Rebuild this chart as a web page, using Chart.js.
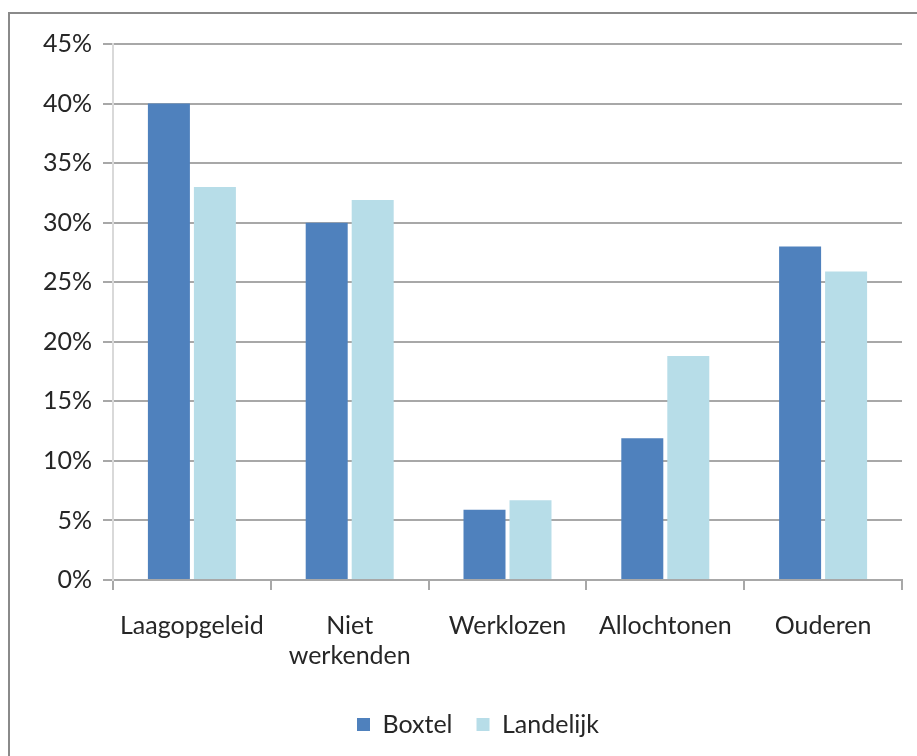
<!DOCTYPE html>
<html lang="nl">
<head>
    <meta charset="UTF-8">
    <title>Boxtel vs Landelijk</title>
    <script src="https://cdn.jsdelivr.net/npm/chart.js"></script>
    <style>
        html, body { margin: 0; padding: 0; background: #fff; overflow: hidden; }
        .frame {
            position: absolute; left: 8px; top: 12px;
            width: 1000px; height: 1000px;
            border: 2px solid #8a8a8a;
        }
        .chart-container { position: absolute; left: 0; top: 0; width: 917px; height: 756px; }
    </style>
</head>
<body>
    <div class="frame"></div>
    <div class="chart-container">
        <canvas id="myChart"></canvas>
    </div>
    <script>
        // categories and series (percentages)
        const categories = ['Laagopgeleid', ['Niet', 'werkenden'], 'Werklozen', 'Allochtonen', 'Ouderen'];
        const boxtel = [40, 30, 5.9, 11.9, 28];
        const landelijk = [33, 31.9, 6.7, 18.8, 25.9];
        const yTicks = [0, 5, 10, 15, 20, 25, 30, 35, 40, 45];

        const font = { family: 'Lato, "Liberation Sans", sans-serif', size: 25 };
        const gridColor = '#a8a8a8';

        // the original legend sits a little right of the canvas centre
        const legendShift = {
            id: 'legendShift',
            afterLayout(chart) {
                chart.legend.left += 27;
                chart.legend.right += 27;
            }
        };

        const ctx = document.getElementById('myChart').getContext('2d');
        new Chart(ctx, {
            type: 'bar',
            data: {
                labels: categories,
                datasets: [{
                    label: 'Boxtel',
                    data: boxtel,
                    backgroundColor: '#4f81bd',
                    barPercentage: 0.913,
                    categoryPercentage: 0.583
                }, {
                    label: 'Landelijk',
                    data: landelijk,
                    backgroundColor: '#b7dde8',
                    barPercentage: 0.913,
                    categoryPercentage: 0.583
                }]
            },
            plugins: [legendShift],
            options: {
                responsive: true,
                maintainAspectRatio: false,
                animation: false,
                layout: { padding: { top: 44, right: 15, bottom: 9, left: 0 } },
                scales: {
                    x: {
                        grid: {
                            offset: true,
                            drawOnChartArea: false,
                            drawTicks: true,
                            tickLength: 10,
                            color: gridColor,
                            lineWidth: 2
                        },
                        border: { color: gridColor, width: 2 },
                        ticks: { color: '#262626', font: font, padding: 21, maxRotation: 0 },
                        afterFit: s => { s.height = 108; }
                    },
                    y: {
                        min: 0,
                        max: 45,
                        afterBuildTicks: s => { s.ticks = yTicks.map(v => ({ value: v })); },
                        grid: { color: gridColor, lineWidth: 2, tickLength: 10 },
                        border: { color: '#d9d9d9', width: 2 },
                        ticks: {
                            color: '#262626',
                            font: font,
                            padding: 11,
                            callback: v => v + '%'
                        },
                        afterFit: s => { s.width = 113; }
                    }
                },
                plugins: {
                    legend: {
                        position: 'bottom',
                        labels: {
                            color: '#262626',
                            font: font,
                            boxWidth: 13,
                            boxHeight: 13,
                            padding: 24
                        }
                    },
                    tooltip: { enabled: false }
                }
            }
        });
    </script>
</body>
</html>
